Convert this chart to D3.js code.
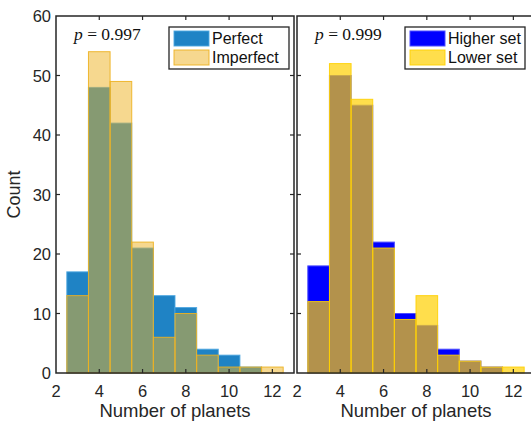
<!DOCTYPE html>
<html><head><meta charset="utf-8">
<script src="https://cdn.jsdelivr.net/npm/d3@7"></script>
<style>body{margin:0;background:#fff;} svg{display:block;}</style>
</head><body>
<svg id="chart" width="531" height="422"></svg>
<script>
const bins = [3,4,5,6,7,8,9,10,11,12];
const perfect   = [17,48,42,21,13,11,4,3,1,0];
const imperfect = [13,54,49,22,6,10,3,1,1,1];
const higherSet = [18,50,45,22,10,8,4,2,1,0];
const lowerSet  = [12,52,46,21,9,13,3,2,1,1];
const xTicks = [2,4,6,8,10,12];
const yTicks = [0,10,20,30,40,50,60];
const pLeft = "0.997", pRight = "0.999";

const svg = d3.select("#chart");
const axisColor = "#262626";
const font = "'Liberation Sans', Arial, Helvetica, sans-serif";
const y = d3.scaleLinear().domain([0,60]).range([373,16]);

function panel(x0, x1, seriesA, seriesB, styleA, styleB, names, pval, showY, legendX) {
  const x = d3.scaleLinear().domain([2,13]).range([x0,x1]);
  const g = svg.append("g");
  const drawBars = (vals, st) => {
    g.selectAll(null).data(bins.map((b,i)=>({b, v: vals[i]})).filter(d=>d.v>0))
      .enter().append("rect")
      .attr("x", d=>x(d.b-0.5)).attr("width", d=>x(d.b+0.5)-x(d.b-0.5))
      .attr("y", d=>y(d.v)).attr("height", d=>y(0)-y(d.v))
      .attr("fill", st.fill).attr("fill-opacity", st.op)
      .attr("stroke", st.stroke).attr("stroke-opacity", st.sop).attr("stroke-width", 1);
  };
  drawBars(seriesA, styleA);
  drawBars(seriesB, styleB);

  // box
  g.append("rect").attr("x", x0).attr("y", y(60)).attr("width", x1-x0).attr("height", y(0)-y(60))
    .attr("fill","none").attr("stroke", axisColor).attr("stroke-width", 1.5);

  // inward ticks
  const tl = 4;
  xTicks.forEach(t => {
    if (t===2) return;
    g.append("line").attr("x1",x(t)).attr("x2",x(t)).attr("y1",y(0)).attr("y2",y(0)-tl).attr("stroke",axisColor).attr("stroke-width",1.2);
    g.append("line").attr("x1",x(t)).attr("x2",x(t)).attr("y1",y(60)).attr("y2",y(60)+tl).attr("stroke",axisColor).attr("stroke-width",1.2);
  });
  yTicks.forEach(t => {
    if (t===0 || t===60) return;
    g.append("line").attr("x1",x0).attr("x2",x0+tl).attr("y1",y(t)).attr("y2",y(t)).attr("stroke",axisColor).attr("stroke-width",1.2);
    g.append("line").attr("x1",x1).attr("x2",x1-tl).attr("y1",y(t)).attr("y2",y(t)).attr("stroke",axisColor).attr("stroke-width",1.2);
  });

  // x tick labels
  g.selectAll(null).data(xTicks).enter().append("text")
    .attr("x", d=>x(d)).attr("y", y(0)+24).attr("text-anchor","middle")
    .attr("font-family", font).attr("font-size", 16.5).attr("fill", axisColor).text(d=>d);
  if (showY) {
    g.selectAll(null).data(yTicks).enter().append("text")
      .attr("x", x0-5).attr("y", d=>y(d)+6).attr("text-anchor","end")
      .attr("font-family", font).attr("font-size", 16.5).attr("fill", axisColor).text(d=>d);
    g.append("text").attr("transform", `translate(20,${(y(0)+y(60))/2}) rotate(-90)`)
      .attr("text-anchor","middle").attr("font-family", font).attr("font-size", 18).attr("fill", axisColor).text("Count");
  }
  g.append("text").attr("x", x(7.5)).attr("y", 417).attr("text-anchor","middle")
    .attr("font-family", font).attr("font-size", 18.5).attr("fill", axisColor).text("Number of planets");

  // p value
  const pt = g.append("text").attr("x", x0+18).attr("y", 40).attr("font-family","'Liberation Serif','Times New Roman',serif")
    .attr("font-size", 17.5).attr("fill","#111");
  pt.append("tspan").attr("font-style","italic").text("p");
  pt.append("tspan").text(" = " + pval);

  // legend
  const lg = g.append("g").attr("transform", `translate(${legendX},27)`);
  lg.append("rect").attr("x",0).attr("y",0).attr("width",120).attr("height",42)
    .attr("fill","#fff").attr("stroke", axisColor).attr("stroke-width",1.3);
  [styleA, styleB].forEach((st,i) => {
    lg.append("rect").attr("x",5).attr("y",4+i*19).attr("width",35).attr("height",15)
      .attr("fill", st.fill).attr("fill-opacity", st.op).attr("stroke", st.stroke).attr("stroke-opacity", st.sop);
    lg.append("text").attr("x",43).attr("y",17+i*19).attr("font-family", font).attr("font-size",16)
      .attr("fill","#111").text(names[i]);
  });
}

panel(56, 294, perfect, imperfect,
  {fill:"#0072BD", op:0.88, stroke:"#4da6e0", sop:0.9},
  {fill:"#EDB120", op:0.5, stroke:"#EDB120", sop:0.9},
  ["Perfect","Imperfect"], pLeft, true, 169);
panel(297, 535, higherSet, lowerSet,
  {fill:"#0000FF", op:1, stroke:"#4d4dff", sop:1},
  {fill:"#FFD000", op:0.7, stroke:"#FFD000", sop:0.9},
  ["Higher set","Lower set"], pRight, false, 405);
</script>
</body></html>
